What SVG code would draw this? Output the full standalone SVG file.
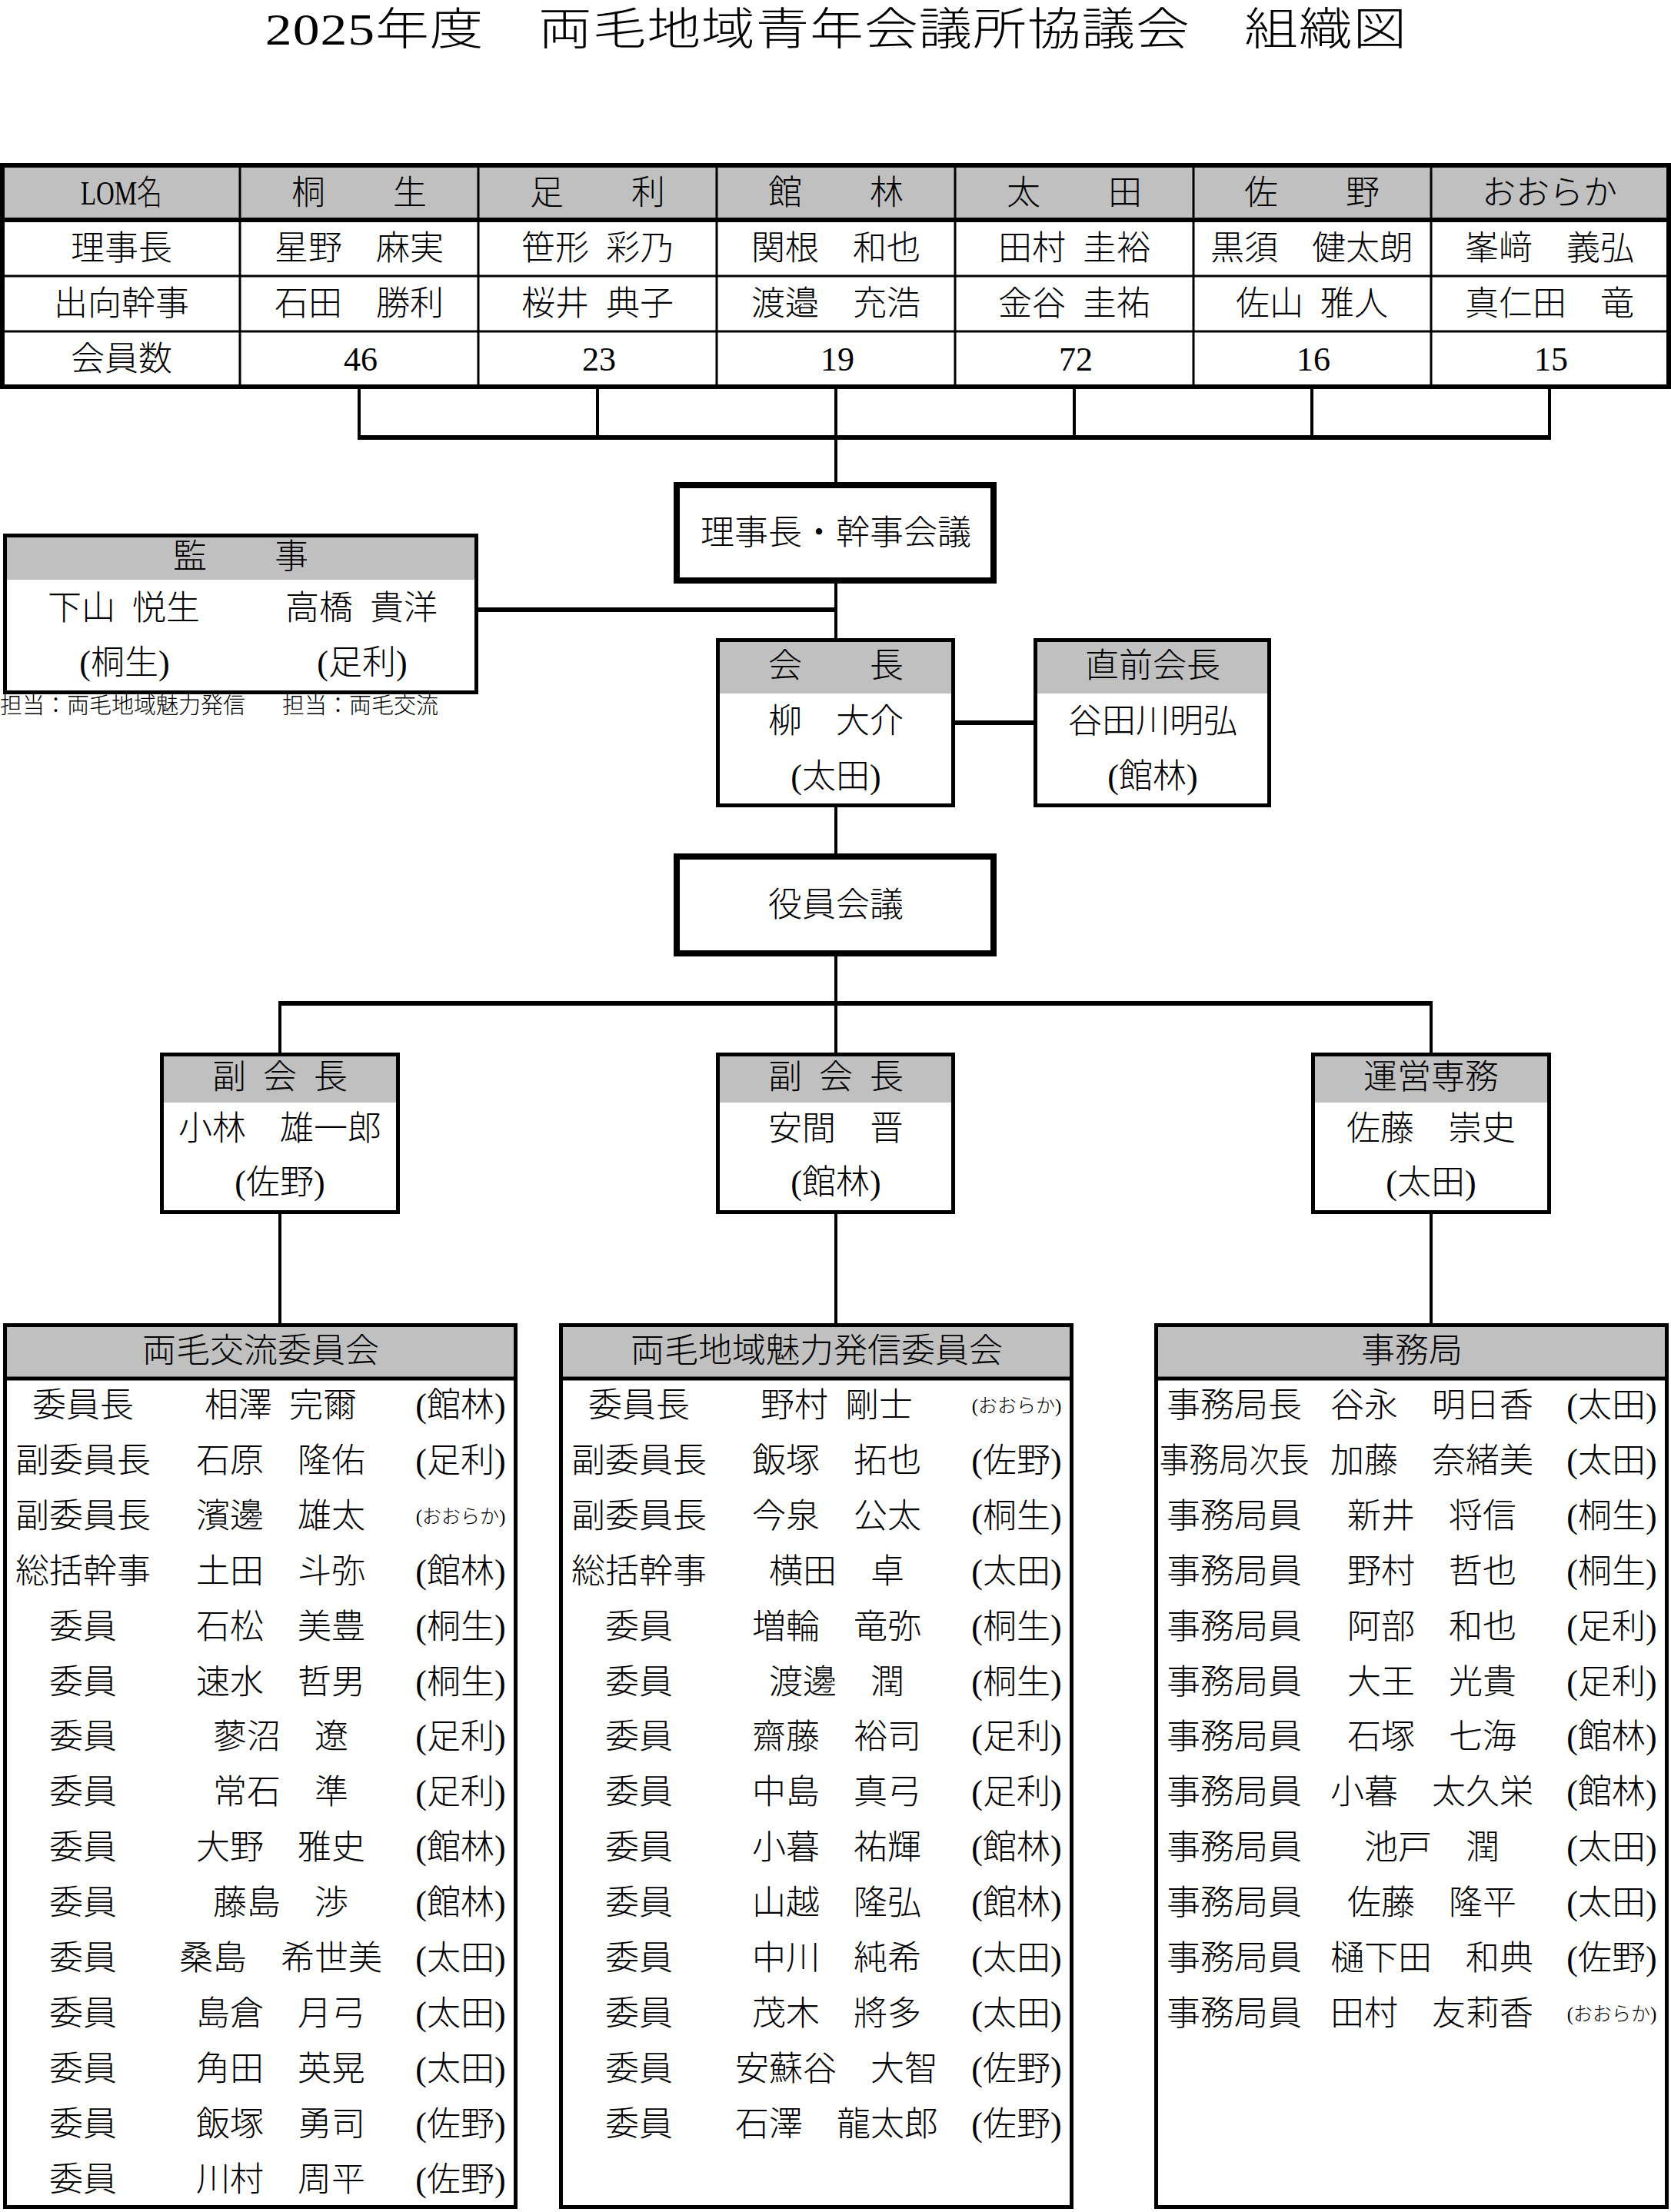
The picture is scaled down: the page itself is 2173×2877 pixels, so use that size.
<svg xmlns="http://www.w3.org/2000/svg" width="2173" height="2877" viewBox="0 0 2173 2877">
<style>
text{font-family:"Liberation Serif","Noto Sans CJK JP",serif;font-size:44px;font-weight:300;fill:#000;dominant-baseline:central;text-anchor:middle}
.s{font-size:25px}
.note{font-size:29px;text-anchor:start}
.title{font-size:58px}
.hdr{fill:#c0c0c0;stroke:none}
.wht{fill:#fff;stroke:none}
.bd{fill:none;stroke:#000;stroke-width:5}
.bd8{fill:#fff;stroke:#000;stroke-width:8}
.ln{stroke:#000;stroke-width:3;fill:none}
.lnt{stroke:#000;stroke-width:6;fill:none}
.v{stroke:#000;stroke-width:4;fill:none}
.h{stroke:#000;stroke-width:6;fill:none}
</style>
<rect width="2173" height="2877" fill="#fff"/>
<g id="title">
<text class="title" transform="translate(1087,39) scale(1.2,1)" textLength="1237" lengthAdjust="spacing">2025年度　両毛地域青年会議所協議会　組織図</text>
</g>

<g id="lom-table">
<rect class="hdr" x="3" y="215" width="2167" height="71"/>
<line class="ln" x1="312" y1="215" x2="312" y2="503"/>
<line class="ln" x1="622" y1="215" x2="622" y2="503"/>
<line class="ln" x1="932" y1="215" x2="932" y2="503"/>
<line class="ln" x1="1242" y1="215" x2="1242" y2="503"/>
<line class="ln" x1="1552" y1="215" x2="1552" y2="503"/>
<line class="ln" x1="1861" y1="215" x2="1861" y2="503"/>
<line class="ln" x1="3" y1="359" x2="2170" y2="359"/>
<line class="ln" x1="3" y1="431" x2="2170" y2="431"/>
<line class="lnt" x1="3" y1="286" x2="2170" y2="286"/>
<rect class="lnt" x="3" y="215" width="2167" height="288"/>
<text x="158" y="251" textLength="106" lengthAdjust="spacingAndGlyphs">LOM名</text>
<text x="467" y="251">桐　　生</text>
<text x="777" y="251">足　　利</text>
<text x="1087" y="251">館　　林</text>
<text x="1397" y="251">太　　田</text>
<text x="1706" y="251">佐　　野</text>
<text x="2015" y="251">おおらか</text>
<text x="158" y="323">理事長</text>
<text x="467" y="323">星野　麻実</text>
<text x="777" y="323">笹形&#x2002;彩乃</text>
<text x="1087" y="323">関根　和也</text>
<text x="1397" y="323">田村&#x2002;圭裕</text>
<text x="1706" y="323">黒須　健太朗</text>
<text x="2015" y="323">峯﨑　義弘</text>
<text x="158" y="395">出向幹事</text>
<text x="467" y="395">石田　勝利</text>
<text x="777" y="395">桜井&#x2002;典子</text>
<text x="1087" y="395">渡邉　充浩</text>
<text x="1397" y="395">金谷&#x2002;圭祐</text>
<text x="1706" y="395">佐山&#x2002;雅人</text>
<text x="2015" y="395">真仁田　竜</text>
<text x="158" y="467">会員数</text>
<text x="469" y="467">46</text>
<text x="779" y="467">23</text>
<text x="1089" y="467">19</text>
<text x="1399" y="467">72</text>
<text x="1708" y="467">16</text>
<text x="2017" y="467">15</text>
</g>

<g id="connectors">
<line class="v" x1="467" y1="503" x2="467" y2="569"/>
<line class="v" x1="777" y1="503" x2="777" y2="569"/>
<line class="v" x1="1087" y1="503" x2="1087" y2="569"/>
<line class="v" x1="1397" y1="503" x2="1397" y2="569"/>
<line class="v" x1="1706" y1="503" x2="1706" y2="569"/>
<line class="v" x1="2015" y1="503" x2="2015" y2="569"/>
<line class="h" x1="465" y1="569" x2="2017" y2="569"/>
<line class="v" x1="1087" y1="569" x2="1087" y2="629"/>
<line class="v" x1="1087" y1="759" x2="1087" y2="830"/>
<line class="h" x1="622" y1="793" x2="1087" y2="793"/>
<line class="h" x1="1242" y1="940" x2="1344" y2="940"/>
<line class="v" x1="1087" y1="1050" x2="1087" y2="1110"/>
<line class="v" x1="1087" y1="1244" x2="1087" y2="1305"/>
<line class="h" x1="362" y1="1305" x2="1863" y2="1305"/>
<line class="v" x1="364" y1="1305" x2="364" y2="1369"/>
<line class="v" x1="1087" y1="1305" x2="1087" y2="1369"/>
<line class="v" x1="1861" y1="1305" x2="1861" y2="1369"/>
<line class="v" x1="364" y1="1579" x2="364" y2="1721"/>
<line class="v" x1="1087" y1="1579" x2="1087" y2="1721"/>
<line class="v" x1="1861" y1="1579" x2="1861" y2="1721"/>
</g>

<g id="rijichou-kanji-kaigi">
<rect class="bd8" x="880" y="631" width="412" height="124"/>
<text x="1087" y="693">理事長・幹事会議</text>
</g>

<g id="kanji">
<rect class="hdr" x="4" y="694" width="618" height="60"/>
<rect class="wht" x="4" y="754" width="618" height="149"/>
<rect class="bd" x="6.5" y="696.5" width="613" height="204"/>
<text x="313" y="724">監　　事</text>
<text x="161" y="791">下山&#x2002;悦生</text>
<text x="470" y="791">高橋&#x2002;貴洋</text>
<text x="162" y="862">(桐生)</text>
<text x="471" y="862">(足利)</text>
<text class="note" x="0" y="918">担当：両毛地域魅力発信</text>
<text class="note" x="367" y="918">担当：両毛交流</text>
</g>

<g id="kaichou">
<rect class="hdr" x="931" y="830" width="311" height="72"/>
<rect class="wht" x="931" y="902" width="311" height="148"/>
<rect class="bd" x="933.5" y="832.5" width="306" height="215"/>
<text x="1087" y="866">会　　長</text>
<text x="1087" y="938">柳　大介</text>
<text x="1087" y="1010">(太田)</text>
</g>

<g id="chokuzen-kaichou">
<rect class="hdr" x="1344" y="830" width="309" height="72"/>
<rect class="wht" x="1344" y="902" width="309" height="148"/>
<rect class="bd" x="1346.5" y="832.5" width="304" height="215"/>
<text x="1499" y="866">直前会長</text>
<text x="1499" y="938">谷田川明弘</text>
<text x="1499" y="1010">(館林)</text>
</g>

<g id="yakuin-kaigi">
<rect class="bd8" x="880" y="1114" width="412" height="126"/>
<text x="1087" y="1177">役員会議</text>
</g>

<g id="fuku-kaichou-1">
<rect class="hdr" x="208" y="1369" width="312" height="65"/>
<rect class="wht" x="208" y="1434" width="312" height="145"/>
<rect class="bd" x="210.5" y="1371.5" width="307" height="205"/>
<text x="364" y="1401">副&#x2002;会&#x2002;長</text>
<text x="364" y="1468">小林　雄一郎</text>
<text x="364" y="1538">(佐野)</text>
</g>

<g id="fuku-kaichou-2">
<rect class="hdr" x="931" y="1369" width="311" height="65"/>
<rect class="wht" x="931" y="1434" width="311" height="145"/>
<rect class="bd" x="933.5" y="1371.5" width="306" height="205"/>
<text x="1087" y="1401">副&#x2002;会&#x2002;長</text>
<text x="1087" y="1468">安間　晋</text>
<text x="1087" y="1538">(館林)</text>
</g>

<g id="unei-senmu">
<rect class="hdr" x="1705" y="1369" width="312" height="65"/>
<rect class="wht" x="1705" y="1434" width="312" height="145"/>
<rect class="bd" x="1707.5" y="1371.5" width="307" height="205"/>
<text x="1861" y="1401">運営専務</text>
<text x="1861" y="1468">佐藤　崇史</text>
<text x="1861" y="1538">(太田)</text>
</g>

<g id="ryomo-koryu" transform="translate(4,0)">
<rect class="hdr" x="0" y="1721" width="669" height="72"/>
<rect class="wht" x="0" y="1793" width="669" height="1080"/>
<line class="bd" x1="0" y1="1793" x2="669" y2="1793"/>
<rect class="bd" x="2.5" y="1723.5" width="664" height="1147"/>
<text x="335" y="1757">両毛交流委員会</text>
<text x="104" y="1828">委員長</text><text x="361" y="1828">相澤&#x2002;完爾</text><text x="595" y="1828">(館林)</text>
<text x="104" y="1900">副委員長</text><text x="361" y="1900">石原　隆佑</text><text x="595" y="1900">(足利)</text>
<text x="104" y="1972">副委員長</text><text x="361" y="1972">濱邊　雄太</text><text class="s" x="595" y="1972">(おおらか)</text>
<text x="104" y="2044">総括幹事</text><text x="361" y="2044">土田　斗弥</text><text x="595" y="2044">(館林)</text>
<text x="104" y="2116">委員</text><text x="361" y="2116">石松　美豊</text><text x="595" y="2116">(桐生)</text>
<text x="104" y="2188">委員</text><text x="361" y="2188">速水　哲男</text><text x="595" y="2188">(桐生)</text>
<text x="104" y="2259">委員</text><text x="361" y="2259">蓼沼　遼</text><text x="595" y="2259">(足利)</text>
<text x="104" y="2331">委員</text><text x="361" y="2331">常石　準</text><text x="595" y="2331">(足利)</text>
<text x="104" y="2403">委員</text><text x="361" y="2403">大野　雅史</text><text x="595" y="2403">(館林)</text>
<text x="104" y="2475">委員</text><text x="361" y="2475">藤島　渉</text><text x="595" y="2475">(館林)</text>
<text x="104" y="2547">委員</text><text x="361" y="2547">桑島　希世美</text><text x="595" y="2547">(太田)</text>
<text x="104" y="2619">委員</text><text x="361" y="2619">島倉　月弓</text><text x="595" y="2619">(太田)</text>
<text x="104" y="2691">委員</text><text x="361" y="2691">角田　英晃</text><text x="595" y="2691">(太田)</text>
<text x="104" y="2763">委員</text><text x="361" y="2763">飯塚　勇司</text><text x="595" y="2763">(佐野)</text>
<text x="104" y="2835">委員</text><text x="361" y="2835">川村　周平</text><text x="595" y="2835">(佐野)</text>
</g>

<g id="ryomo-miryoku-hasshin" transform="translate(727,0)">
<rect class="hdr" x="0" y="1721" width="669" height="72"/>
<rect class="wht" x="0" y="1793" width="669" height="1080"/>
<line class="bd" x1="0" y1="1793" x2="669" y2="1793"/>
<rect class="bd" x="2.5" y="1723.5" width="664" height="1147"/>
<text x="335" y="1757">両毛地域魅力発信委員会</text>
<text x="104" y="1828">委員長</text><text x="361" y="1828">野村&#x2002;剛士</text><text class="s" x="595" y="1828">(おおらか)</text>
<text x="104" y="1900">副委員長</text><text x="361" y="1900">飯塚　拓也</text><text x="595" y="1900">(佐野)</text>
<text x="104" y="1972">副委員長</text><text x="361" y="1972">今泉　公太</text><text x="595" y="1972">(桐生)</text>
<text x="104" y="2044">総括幹事</text><text x="361" y="2044">横田　卓</text><text x="595" y="2044">(太田)</text>
<text x="104" y="2116">委員</text><text x="361" y="2116">増輪　竜弥</text><text x="595" y="2116">(桐生)</text>
<text x="104" y="2188">委員</text><text x="361" y="2188">渡邊　潤</text><text x="595" y="2188">(桐生)</text>
<text x="104" y="2259">委員</text><text x="361" y="2259">齋藤　裕司</text><text x="595" y="2259">(足利)</text>
<text x="104" y="2331">委員</text><text x="361" y="2331">中島　真弓</text><text x="595" y="2331">(足利)</text>
<text x="104" y="2403">委員</text><text x="361" y="2403">小暮　祐輝</text><text x="595" y="2403">(館林)</text>
<text x="104" y="2475">委員</text><text x="361" y="2475">山越　隆弘</text><text x="595" y="2475">(館林)</text>
<text x="104" y="2547">委員</text><text x="361" y="2547">中川　純希</text><text x="595" y="2547">(太田)</text>
<text x="104" y="2619">委員</text><text x="361" y="2619">茂木　將多</text><text x="595" y="2619">(太田)</text>
<text x="104" y="2691">委員</text><text x="361" y="2691">安蘇谷　大智</text><text x="595" y="2691">(佐野)</text>
<text x="104" y="2763">委員</text><text x="361" y="2763">石澤　龍太郎</text><text x="595" y="2763">(佐野)</text>
</g>

<g id="jimukyoku" transform="translate(1501,0)">
<rect class="hdr" x="0" y="1721" width="669" height="72"/>
<rect class="wht" x="0" y="1793" width="669" height="1080"/>
<line class="bd" x1="0" y1="1793" x2="669" y2="1793"/>
<rect class="bd" x="2.5" y="1723.5" width="664" height="1147"/>
<text x="335" y="1757">事務局</text>
<text x="104" y="1828">事務局長</text><text x="361" y="1828">谷永　明日香</text><text x="595" y="1828">(太田)</text>
<text x="104" y="1900" textLength="195" lengthAdjust="spacingAndGlyphs">事務局次長</text><text x="361" y="1900">加藤　奈緒美</text><text x="595" y="1900">(太田)</text>
<text x="104" y="1972">事務局員</text><text x="361" y="1972">新井　将信</text><text x="595" y="1972">(桐生)</text>
<text x="104" y="2044">事務局員</text><text x="361" y="2044">野村　哲也</text><text x="595" y="2044">(桐生)</text>
<text x="104" y="2116">事務局員</text><text x="361" y="2116">阿部　和也</text><text x="595" y="2116">(足利)</text>
<text x="104" y="2188">事務局員</text><text x="361" y="2188">大王　光貴</text><text x="595" y="2188">(足利)</text>
<text x="104" y="2259">事務局員</text><text x="361" y="2259">石塚　七海</text><text x="595" y="2259">(館林)</text>
<text x="104" y="2331">事務局員</text><text x="361" y="2331">小暮　太久栄</text><text x="595" y="2331">(館林)</text>
<text x="104" y="2403">事務局員</text><text x="361" y="2403">池戸　潤</text><text x="595" y="2403">(太田)</text>
<text x="104" y="2475">事務局員</text><text x="361" y="2475">佐藤　隆平</text><text x="595" y="2475">(太田)</text>
<text x="104" y="2547">事務局員</text><text x="361" y="2547">樋下田　和典</text><text x="595" y="2547">(佐野)</text>
<text x="104" y="2619">事務局員</text><text x="361" y="2619">田村　友莉香</text><text class="s" x="595" y="2619">(おおらか)</text>
</g>
</svg>
